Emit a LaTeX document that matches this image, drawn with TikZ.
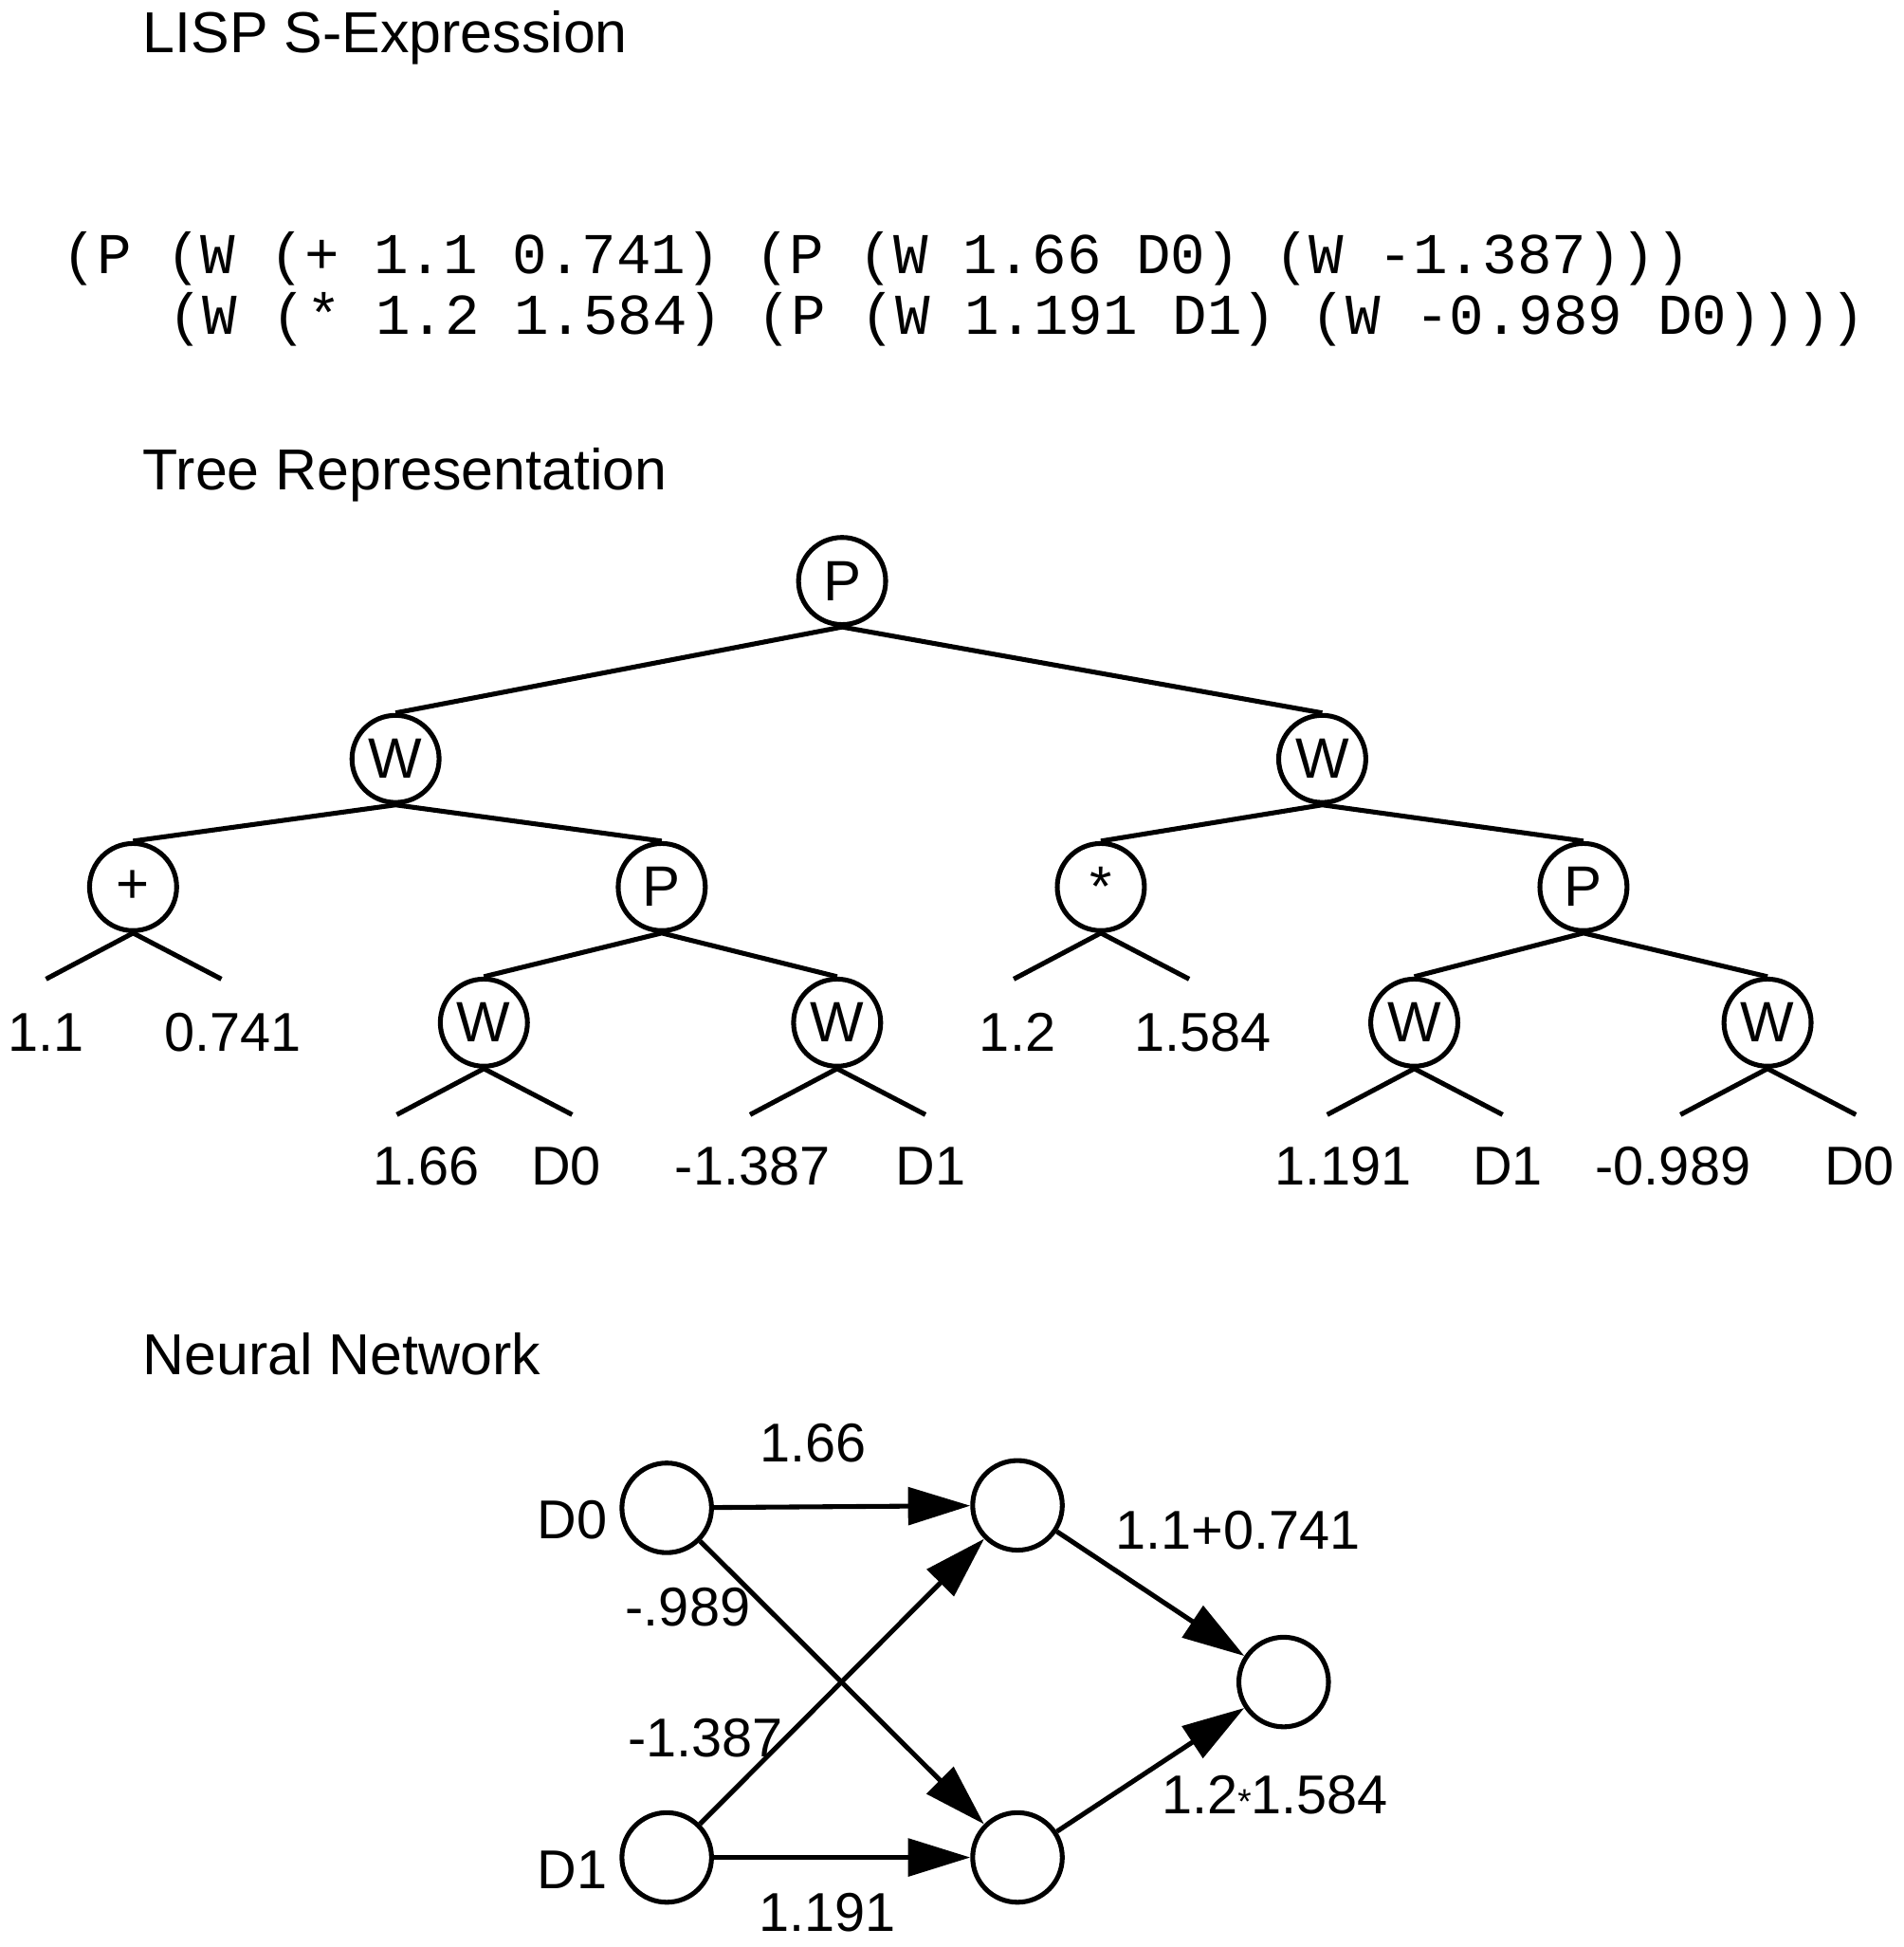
\documentclass[tikz,border=0pt]{standalone}
\usepackage{fontspec}
\setmainfont{Liberation Sans}
\setmonofont{Liberation Mono}
\usetikzlibrary{arrows.meta,calc}
\begin{document}
\begin{tikzpicture}[x=0.01cm,y=-0.01cm,line width=1.1pt,
  tn/.style={circle,draw,minimum size=0.7cm,inner sep=0pt,font=\fontsize{13}{13}\selectfont},
  nn/.style={circle,draw,minimum size=0.72cm,inner sep=0pt},
  lab/.style={font=\fontsize{12.5}{13}\selectfont,inner sep=0pt},
  ttl/.style={font=\fontsize{13.2}{14}\selectfont,anchor=west,inner sep=0pt},
  code/.style={font=\ttfamily\fontsize{13.2}{14}\selectfont,anchor=west,inner sep=0pt},
  arr/.style={-{Triangle[length=0.5cm,width=0.3cm]}}]
\useasboundingbox (0,0) rectangle (1530,1565);
\node[ttl] (t1) at (113,30) {LISP S-Expression};
\node[code] (c1) at (48,208) {(P (W (+ 1.1 0.741) (P (W 1.66 D0) (W -1.387)))};
\node[code] (c2) at (133,257) {(W (* 1.2 1.584) (P (W 1.191 D1) (W -0.989 D0))))};
\node[ttl] (t2) at (113,382) {Tree Representation};
\node[ttl] (t3) at (113,1088) {Neural Network};
% tree
\node[tn] (p0) at (677,467) {P};
\node[tn] (wl) at (318,610) {W};
\node[tn] (wr) at (1063,610) {W};
\node[tn] (pl) at (107,713) {+};
\node[tn] (pp) at (532,713) {P};
\node[tn] (st) at (885,713) {*};
\node[tn] (pr) at (1273,713) {P};
\node[tn] (w1) at (389,822) {W};
\node[tn] (w2) at (673,822) {W};
\node[tn] (w3) at (1137,822) {W};
\node[tn] (w4) at (1421,822) {W};
\draw (p0.south) -- (wl.north) (p0.south) -- (wr.north);
\draw (wl.south) -- (pl.north) (wl.south) -- (pp.north);
\draw (wr.south) -- (st.north) (wr.south) -- (pr.north);
\draw (pp.south) -- (w1.north) (pp.south) -- (w2.north);
\draw (pr.south) -- (w3.north) (pr.south) -- (w4.north);
\foreach \n/\a/\b in {pl/1/2, st/3/4, w1/5/6, w2/7/8, w3/9/10, w4/11/12}{
  \coordinate (e\a) at ($(\n.south)+(-70,37)$);
  \coordinate (e\b) at ($(\n.south)+(71,37)$);
  \draw (\n.south) -- (e\a) (\n.south) -- (e\b);
}
\node[lab] (l1) at (37,830) {1.1};
\node[lab] (l2) at (187,830) {0.741};
\node[lab] (l3) at (818,830) {1.2};
\node[lab] (l4) at (967,830) {1.584};
\node[lab] (l5) at (343,937) {1.66};
\node[lab] (l6) at (455,937) {D0};
\node[lab] (l7) at (605,937) {-1.387};
\node[lab] (l8) at (748,937) {D1};
\node[lab] (l9) at (1080,937) {1.191};
\node[lab] (l10) at (1212,937) {D1};
\node[lab] (l11) at (1345,937) {-0.989};
\node[lab] (l12) at (1495,937) {D0};
% network
\node[nn] (d0) at (536,1212) {};
\node[nn] (d1) at (536,1493) {};
\node[nn] (h1) at (818,1210) {};
\node[nn] (h2) at (818,1493) {};
\node[nn] (o) at (1032,1352) {};
\draw[arr] (d0) -- (h1);
\draw[arr] (d0) -- (h2);
\draw[arr] (d1) -- (h1);
\draw[arr] (d1) -- (h2);
\draw[arr] (h1) -- (o);
\draw[arr] (h2) -- (o);
\node[lab] (nd0) at (460,1222) {D0};
\node[lab] (nd1) at (460,1503) {D1};
\node[lab] (n1) at (654,1160) {1.66};
\node[lab] (n2) at (553,1292) {-.989};
\node[lab] (n3) at (567,1397) {-1.387};
\node[lab] (n4) at (665,1537) {1.191};
\node[lab] (n5) at (995,1230) {1.1+0.741};
\node[lab] (n6) at (1025,1443) {1.2{\fontsize{8}{8}\selectfont *}1.584};
\end{tikzpicture}
\end{document}
